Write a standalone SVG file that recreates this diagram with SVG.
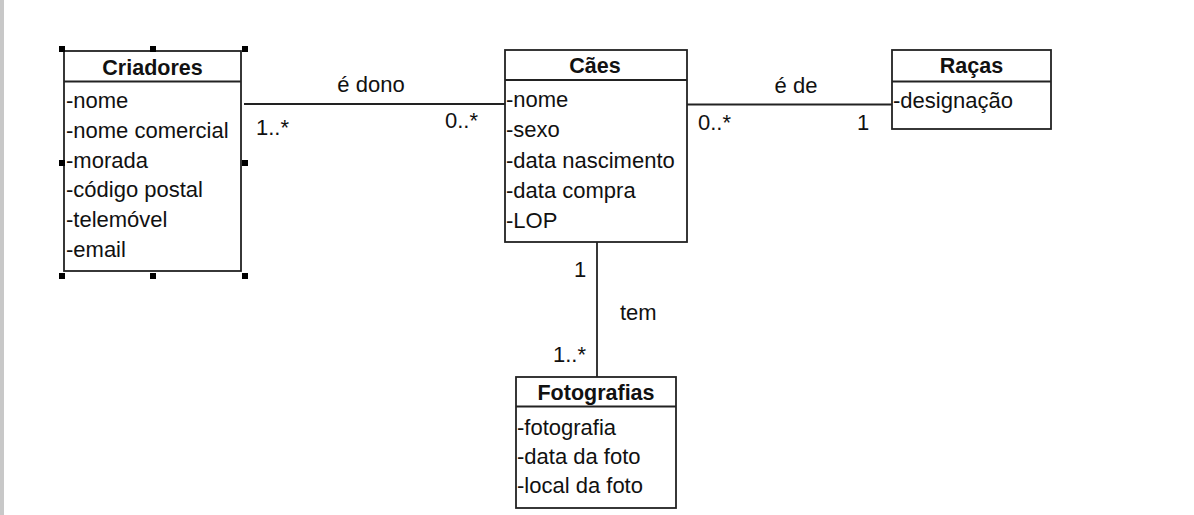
<svg xmlns="http://www.w3.org/2000/svg" width="1194" height="515" viewBox="0 0 1194 515">
<style>
.box{fill:#ffffff;stroke:#222222;stroke-width:1.8}
.sep{stroke:#222222;stroke-width:1.8}
.conn{stroke:#222222;stroke-width:1.8;fill:none}
.title{font-family:"Liberation Sans",Arial,sans-serif;font-size:21.5px;font-weight:bold;fill:#111111;text-anchor:middle}
.attr{font-family:"Liberation Sans",Arial,sans-serif;font-size:22px;fill:#111111}
.lbl{font-family:"Liberation Sans",Arial,sans-serif;font-size:22px;fill:#111111}
.mid{text-anchor:middle}
.h{fill:#000000}
</style>
<rect x="0" y="0" width="1194" height="515" fill="#ffffff"/>
<rect x="0" y="0" width="4" height="515" fill="#c8c8c8"/>

<g id="connectors">
<line class="conn" x1="244" y1="104" x2="505" y2="104"/>
<text class="lbl mid" x="371" y="92">é dono</text>
<text class="lbl" x="256" y="135">1..*</text>
<text class="lbl" x="445" y="128">0..*</text>

<line class="conn" x1="687" y1="104.5" x2="892" y2="104.5"/>
<text class="lbl mid" x="796" y="93">é de</text>
<text class="lbl" x="698" y="130">0..*</text>
<text class="lbl" x="857" y="130">1</text>

<line class="conn" x1="597" y1="242" x2="597" y2="377"/>
<text class="lbl" x="574" y="277">1</text>
<text class="lbl" x="620" y="320">tem</text>
<text class="lbl" x="553" y="362">1..*</text>
</g>

<g id="criadores">
<rect class="box" x="64" y="51" width="177" height="220"/>
<line class="sep" x1="64" y1="81.5" x2="241" y2="81.5"/>
<text class="title" x="152.5" y="75">Criadores</text>
<text class="attr" x="66" y="108">-nome</text>
<text class="attr" x="66" y="137.8">-nome comercial</text>
<text class="attr" x="66" y="167.6">-morada</text>
<text class="attr" x="66" y="197.4">-código postal</text>
<text class="attr" x="66" y="227.2">-telemóvel</text>
<text class="attr" x="66" y="257">-email</text>
<g id="selection-handles">
<rect class="h" x="59" y="46" width="6" height="6"/>
<rect class="h" x="150" y="46" width="6" height="6"/>
<rect class="h" x="242" y="46" width="6" height="6"/>
<rect class="h" x="59" y="160" width="6" height="6"/>
<rect class="h" x="242" y="160" width="6" height="6"/>
<rect class="h" x="59" y="273" width="6" height="6"/>
<rect class="h" x="150" y="273" width="6" height="6"/>
<rect class="h" x="242" y="273" width="6" height="6"/>
</g>
</g>

<g id="caes">
<rect class="box" x="505" y="50" width="182" height="192"/>
<line class="sep" x1="505" y1="80" x2="687" y2="80"/>
<text class="title" x="595" y="73">Cães</text>
<text class="attr" x="506" y="107">-nome</text>
<text class="attr" x="506" y="137.3">-sexo</text>
<text class="attr" x="506" y="167.6">-data nascimento</text>
<text class="attr" x="506" y="197.9">-data compra</text>
<text class="attr" x="506" y="228.2">-LOP</text>
</g>

<g id="racas">
<rect class="box" x="892" y="50" width="159" height="79"/>
<line class="sep" x1="892" y1="81.5" x2="1051" y2="81.5"/>
<text class="title" x="971.5" y="73">Raças</text>
<text class="attr" x="893" y="108">-designação</text>
</g>

<g id="fotografias">
<rect class="box" x="516" y="377" width="160" height="131"/>
<line class="sep" x1="516" y1="406.5" x2="676" y2="406.5"/>
<text class="title" x="596" y="400">Fotografias</text>
<text class="attr" x="517" y="435">-fotografia</text>
<text class="attr" x="517" y="464">-data da foto</text>
<text class="attr" x="517" y="493">-local da foto</text>
</g>
</svg>
